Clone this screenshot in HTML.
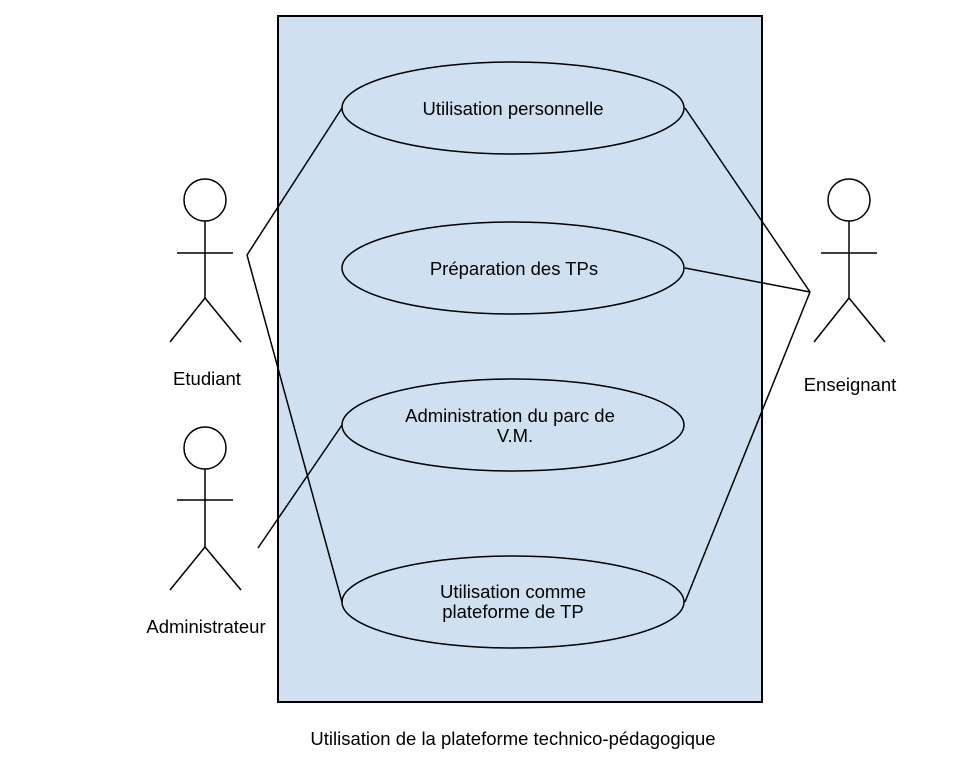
<!DOCTYPE html>
<html><head><meta charset="utf-8"><style>
html,body{margin:0;padding:0;background:#fff;}
svg{display:block;}
text{font-family:"Liberation Sans",sans-serif;font-size:18.5px;fill:#000;}
</style></head><body>
<svg width="961" height="771" viewBox="0 0 961 771" xmlns="http://www.w3.org/2000/svg">
<rect x="278" y="16" width="484" height="686" fill="#cfe0f1" stroke="#000" stroke-width="2"/>
<g fill="#cfe0f1" stroke="#000" stroke-width="1.5">
<ellipse cx="513" cy="108" rx="171" ry="46"/>
<ellipse cx="513" cy="268" rx="171" ry="46"/>
<ellipse cx="513" cy="425" rx="171" ry="46"/>
<ellipse cx="513" cy="602" rx="171" ry="46"/>
</g>
<g stroke="#000" stroke-width="1.5" fill="none">
<line x1="247" y1="255" x2="342" y2="108"/>
<line x1="247" y1="255" x2="342" y2="602"/>
<line x1="258" y1="548" x2="342" y2="425"/>
<line x1="685" y1="108" x2="810" y2="292"/>
<line x1="685" y1="268" x2="810" y2="292"/>
<line x1="685" y1="602" x2="810" y2="292"/>
<circle cx="205" cy="200" r="21" fill="#fff"/>
<line x1="205" y1="221" x2="205" y2="298"/>
<line x1="177" y1="253" x2="233" y2="253"/>
<line x1="205" y1="298" x2="170" y2="342"/>
<line x1="205" y1="298" x2="241" y2="342"/>
<circle cx="205" cy="448" r="21" fill="#fff"/>
<line x1="205" y1="469" x2="205" y2="547"/>
<line x1="177" y1="500" x2="233" y2="500"/>
<line x1="205" y1="547" x2="170" y2="590"/>
<line x1="205" y1="547" x2="241" y2="590"/>
<circle cx="849" cy="200" r="21" fill="#fff"/>
<line x1="849" y1="221" x2="849" y2="298"/>
<line x1="821" y1="253" x2="877" y2="253"/>
<line x1="849" y1="298" x2="814" y2="342"/>
<line x1="849" y1="298" x2="885" y2="342"/>
</g>
<g text-anchor="middle">
<text x="513" y="115">Utilisation personnelle</text>
<text x="514" y="275">Préparation des TPs</text>
<text x="510" y="422">Administration du parc de</text>
<text x="515" y="442">V.M.</text>
<text x="513" y="598">Utilisation comme</text>
<text x="513" y="618">plateforme de TP</text>
<text x="207" y="385">Etudiant</text>
<text x="206" y="633">Administrateur</text>
<text x="850" y="391">Enseignant</text>
<text x="513" y="745">Utilisation de la plateforme technico-pédagogique</text>
</g>
</svg>
</body></html>
